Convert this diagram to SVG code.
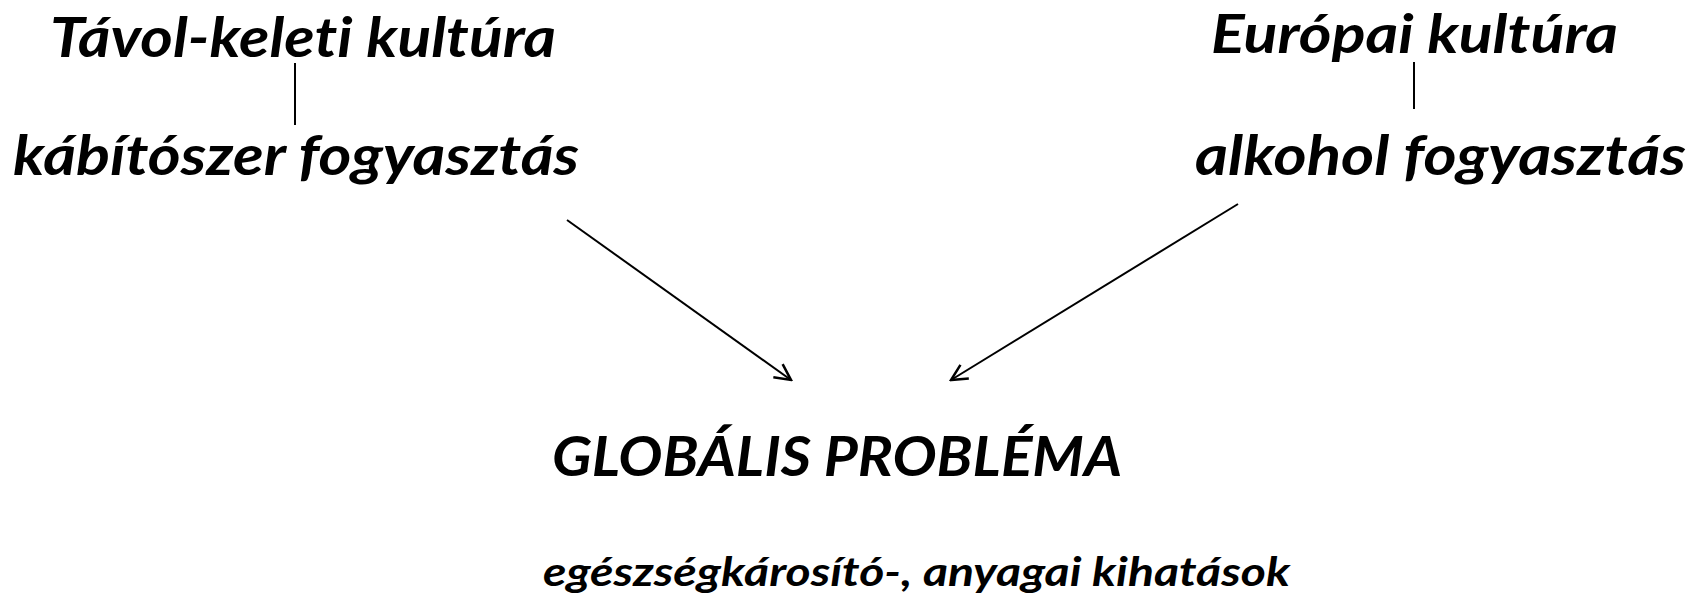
<svg xmlns="http://www.w3.org/2000/svg" width="1703" height="599" viewBox="0 0 1703 599">
<defs>
<style>
.t{font-family:Lato,"Open Sans","Liberation Sans",sans-serif;font-weight:bold;font-style:italic;fill:#000;font-variant-ligatures:none;font-feature-settings:"liga" 0}
.h{font-size:55px}
.s{font-size:40px}
.c{stroke:#000;stroke-width:2;fill:none}
</style>
<marker id="arr" viewBox="0 0 20 20" refX="18" refY="10" markerWidth="20" markerHeight="20" markerUnits="userSpaceOnUse" orient="auto">
<path d="M2,2 L18,10 L2,18" fill="none" stroke="#000" stroke-width="2.5"/>
</marker>
</defs>
<rect width="1703" height="599" fill="#fff"/>
<g id="tavol"><text class="t h" x="50" y="57" textLength="506" lengthAdjust="spacingAndGlyphs">Távol-keleti kultúra</text></g>
<g id="kabitoszer"><text class="t h" x="13" y="175" textLength="566" lengthAdjust="spacingAndGlyphs">kábítószer fogyasztás</text></g>
<g id="europai"><text class="t" font-size="53" x="1211" y="53" textLength="407" lengthAdjust="spacingAndGlyphs">Európai kultúra</text></g>
<g id="alkohol"><text class="t h" x="1195" y="175" textLength="491" lengthAdjust="spacingAndGlyphs">alkohol fogyasztás</text></g>
<g id="globalis"><text class="t h" x="552" y="476" textLength="570" lengthAdjust="spacingAndGlyphs">GLOBÁLIS PROBLÉMA</text></g>
<g id="kihatasok"><text class="t s" x="543" y="586" textLength="747" lengthAdjust="spacingAndGlyphs">egészségkárosító-, anyagai kihatások</text></g>
<g id="connectors">
<line class="c" x1="295" y1="63" x2="295" y2="125"/>
<line class="c" x1="1414" y1="62" x2="1414" y2="109"/>
<line class="c" x1="567" y1="220" x2="791" y2="380" marker-end="url(#arr)"/>
<line class="c" x1="1238" y1="204" x2="951" y2="380" marker-end="url(#arr)"/>
</g>
</svg>
